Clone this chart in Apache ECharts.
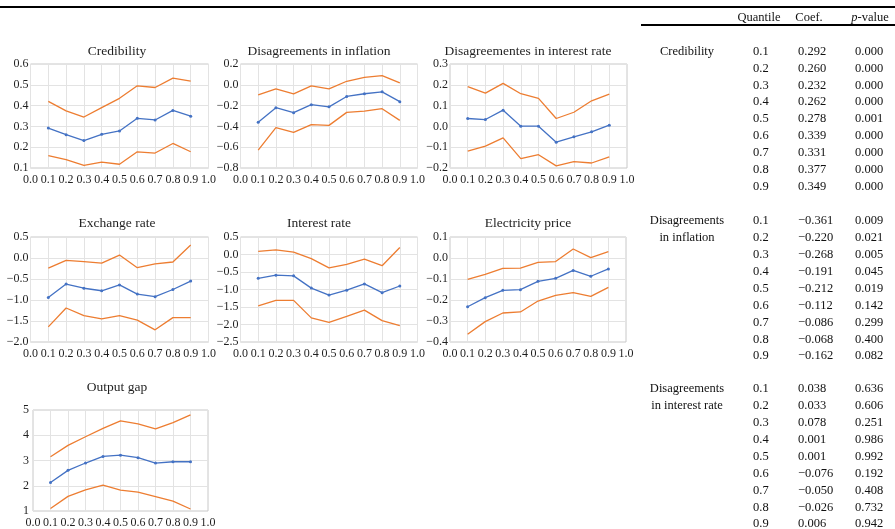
<!DOCTYPE html>
<html>
<head>
<meta charset="utf-8">
<script src="https://cdn.jsdelivr.net/npm/echarts@6/dist/echarts.min.js"></script>
<style>
  html, body { margin: 0; padding: 0; background: #fff; }
  #chart { width: 895px; height: 529px; }
</style>
</head>
<body>
<div id="chart"></div>
<script>
// Quantile grid shared by every panel and the table
const quantiles = [0.1, 0.2, 0.3, 0.4, 0.5, 0.6, 0.7, 0.8, 0.9];

// Credibility
const credCoef  = [0.292, 0.260, 0.232, 0.262, 0.278, 0.339, 0.331, 0.377, 0.349];
const credUpper = [0.420, 0.375, 0.345, 0.390, 0.435, 0.495, 0.487, 0.532, 0.518];
const credLower = [0.160, 0.140, 0.113, 0.128, 0.118, 0.178, 0.172, 0.218, 0.178];
const credP     = [0.000, 0.000, 0.000, 0.000, 0.001, 0.000, 0.000, 0.000, 0.000];

// Disagreements in inflation
const inflCoef  = [-0.361, -0.220, -0.268, -0.191, -0.212, -0.112, -0.086, -0.068, -0.162];
const inflUpper = [-0.097, -0.039, -0.087, -0.011, -0.039, 0.034, 0.072, 0.088, 0.018];
const inflLower = [-0.629, -0.412, -0.457, -0.383, -0.390, -0.265, -0.253, -0.230, -0.342];
const inflP     = [0.009, 0.021, 0.005, 0.045, 0.019, 0.142, 0.299, 0.400, 0.082];

// Disagreements in interest rate
const irdCoef  = [0.038, 0.033, 0.078, 0.001, 0.001, -0.076, -0.050, -0.026, 0.006];
const irdUpper = [0.191, 0.160, 0.207, 0.157, 0.135, 0.038, 0.068, 0.123, 0.155];
const irdLower = [-0.119, -0.095, -0.055, -0.155, -0.136, -0.190, -0.169, -0.176, -0.146];
const irdP     = [0.636, 0.606, 0.251, 0.986, 0.992, 0.192, 0.408, 0.732, 0.942];

// Exchange rate
const fxCoef  = [-0.94, -0.62, -0.72, -0.78, -0.64, -0.86, -0.92, -0.75, -0.55];
const fxUpper = [-0.24, -0.056, -0.087, -0.12, 0.07, -0.23, -0.14, -0.095, 0.31];
const fxLower = [-1.64, -1.19, -1.37, -1.45, -1.37, -1.48, -1.71, -1.42, -1.42];

// Interest rate
const irCoef  = [-0.68, -0.59, -0.61, -0.96, -1.16, -1.02, -0.84, -1.09, -0.90];
const irUpper = [0.09, 0.13, 0.07, -0.12, -0.38, -0.28, -0.13, -0.32, 0.20];
const irLower = [-1.47, -1.31, -1.31, -1.81, -1.94, -1.77, -1.59, -1.89, -2.03];

// Electricity price
const elCoef  = [-0.232, -0.189, -0.154, -0.151, -0.111, -0.097, -0.059, -0.087, -0.052];
const elUpper = [-0.102, -0.078, -0.049, -0.048, -0.021, -0.017, 0.043, 0.002, 0.030];
const elLower = [-0.363, -0.303, -0.262, -0.257, -0.205, -0.178, -0.165, -0.183, -0.140];

// Output gap
const ogCoef  = [2.13, 2.61, 2.90, 3.16, 3.21, 3.11, 2.90, 2.95, 2.95];
const ogUpper = [3.15, 3.60, 3.94, 4.27, 4.57, 4.45, 4.25, 4.50, 4.81];
const ogLower = [1.10, 1.58, 1.84, 2.02, 1.83, 1.75, 1.57, 1.39, 1.08];

// Panel titles and y-axis scales
const panelTitles = ['Credibility', 'Disagreements in inflation', 'Disagreementes in interest rate',
                     'Exchange rate', 'Interest rate', 'Electricity price', 'Output gap'];
const yMin      = [0.1, -0.8, -0.2, -2.0, -2.5, -0.4, 1];
const yMax      = [0.6, 0.2, 0.3, 0.5, 0.5, 0.1, 5];
const yInterval = [0.1, 0.2, 0.1, 0.5, 0.5, 0.1, 1];
const yDecimals = [1, 1, 1, 1, 1, 1, 0];
const coefSets  = [credCoef, inflCoef, irdCoef, fxCoef, irCoef, elCoef, ogCoef];
const upperSets = [credUpper, inflUpper, irdUpper, fxUpper, irUpper, elUpper, ogUpper];
const lowerSets = [credLower, inflLower, irdLower, fxLower, irLower, elLower, ogLower];

// Table rows
const tableHeader = ['Quantile', 'Coef.', 'p-value'];
const tableBlocks = [
  { label: ['Credibility'], coef: credCoef, p: credP },
  { label: ['Disagreements', 'in inflation'], coef: inflCoef, p: inflP },
  { label: ['Disagreements', 'in interest rate'], coef: irdCoef, p: irdP }
];

const FONT = '"Liberation Serif", "Times New Roman", serif';
const TXT = '#1f1f1f';
const BLUE = '#4472C4';
const ORANGE = '#ED7D31';

const fmtNum = (v, d) => {
  const s = Math.abs(v).toFixed(d);
  return (v < -1e-9 ? '\u2212' : '') + s;
};

// Panel placement on the page
const layout = [
  { left: 30.5, top: 64,  width: 178, height: 104, tx: 117, ty: 51 },
  { left: 240.5, top: 64, width: 177, height: 104, tx: 319, ty: 51 },
  { left: 450, top: 64,   width: 177, height: 104, tx: 528, ty: 51 },
  { left: 30.5, top: 237, width: 178, height: 105, tx: 117, ty: 223 },
  { left: 240.5, top: 237, width: 177, height: 105, tx: 319, ty: 223 },
  { left: 450, top: 237,  width: 176, height: 105, tx: 528, ty: 223 },
  { left: 33, top: 410,   width: 175, height: 106, tx: 117, ty: 387 }
];

const grids = [], xAxes = [], yAxes = [], series = [];
const graphic = [];
layout.forEach((g, i) => {
  grids.push({ left: g.left, top: g.top, width: g.width, height: g.height,
               show: true, borderColor: '#c9c9c9', borderWidth: 1, backgroundColor: 'transparent' });
  graphic.push({ type: 'text', x: g.tx, y: g.ty,
    style: { text: panelTitles[i], align: 'center', verticalAlign: 'middle',
             fontFamily: FONT, fontSize: 13.5, fill: TXT } });
  xAxes.push({ type: 'value', gridIndex: i, min: 0, max: 1, interval: 0.1,
               axisLine: { show: false }, axisTick: { show: false },
               splitLine: { show: true, lineStyle: { color: '#e3e3e3', width: 1 } },
               axisLabel: { formatter: v => v.toFixed(1), fontFamily: FONT, fontSize: 12, color: TXT, margin: 6,
                            showMinLabel: true, showMaxLabel: true, hideOverlap: false } });
  yAxes.push({ type: 'value', gridIndex: i, min: yMin[i], max: yMax[i], interval: yInterval[i],
               axisLine: { show: false }, axisTick: { show: false },
               splitLine: { show: true, lineStyle: { color: '#e3e3e3', width: 1 } },
               axisLabel: { formatter: v => fmtNum(v, yDecimals[i]), fontFamily: FONT, fontSize: 12, color: TXT,
                            margin: i === 6 ? 4 : 2 } });
  const pts = arr => arr.map((v, k) => [quantiles[k], v]);
  series.push({ type: 'line', xAxisIndex: i, yAxisIndex: i, data: pts(upperSets[i]), showSymbol: false,
                lineStyle: { color: ORANGE, width: 1.3 }, silent: true, animation: false });
  series.push({ type: 'line', xAxisIndex: i, yAxisIndex: i, data: pts(lowerSets[i]), showSymbol: false,
                lineStyle: { color: ORANGE, width: 1.3 }, silent: true, animation: false });
  series.push({ type: 'line', xAxisIndex: i, yAxisIndex: i, data: pts(coefSets[i]), symbol: 'circle', symbolSize: 3,
                itemStyle: { color: BLUE }, lineStyle: { color: BLUE, width: 1.3 }, silent: true, animation: false });
});

// Table of quantile coefficients on the right
graphic.push({ type: 'rect', shape: { x: 0, y: 6, width: 895, height: 2 }, style: { fill: '#000' } });
graphic.push({ type: 'rect', shape: { x: 641, y: 24, width: 254, height: 2 }, style: { fill: '#000' } });
const hdrX = [759, 809, 870];
tableHeader.forEach((h, k) => {
  const txt = k === 2 ? '{i|p}-value' : h;
  graphic.push({ type: 'text', x: hdrX[k], y: 17.5,
    style: { text: txt, align: 'center', verticalAlign: 'middle', fontFamily: FONT, fontSize: 12.5, fill: '#111',
             rich: { i: { fontStyle: 'italic', fontFamily: FONT, fontSize: 12.5, fill: '#111' } } } });
});
const blockTop = [51.5, 221, 389];
const rowH = 16.9;
tableBlocks.forEach((b, bi) => {
  b.label.forEach((line, li) => {
    graphic.push({ type: 'text', x: 687, y: blockTop[bi] + li * rowH,
      style: { text: line, align: 'center', verticalAlign: 'middle', fontFamily: FONT, fontSize: 12.5, fill: '#111' } });
  });
  quantiles.forEach((q, r) => {
    const y = blockTop[bi] + r * rowH;
    graphic.push({ type: 'text', x: 753, y: y,
      style: { text: q.toFixed(1), align: 'left', verticalAlign: 'middle', fontFamily: FONT, fontSize: 12.5, fill: '#111' } });
    graphic.push({ type: 'text', x: 798, y: y,
      style: { text: fmtNum(b.coef[r], 3), align: 'left', verticalAlign: 'middle', fontFamily: FONT, fontSize: 12.5, fill: '#111' } });
    graphic.push({ type: 'text', x: 855, y: y,
      style: { text: b.p[r].toFixed(3), align: 'left', verticalAlign: 'middle', fontFamily: FONT, fontSize: 12.5, fill: '#111' } });
  });
});

const chart = echarts.init(document.getElementById('chart'), null, { renderer: 'canvas' });
chart.setOption({
  animation: false,
  backgroundColor: '#fff',
  grid: grids,
  xAxis: xAxes,
  yAxis: yAxes,
  series: series,
  graphic: graphic
});
</script>
</body>
</html>
